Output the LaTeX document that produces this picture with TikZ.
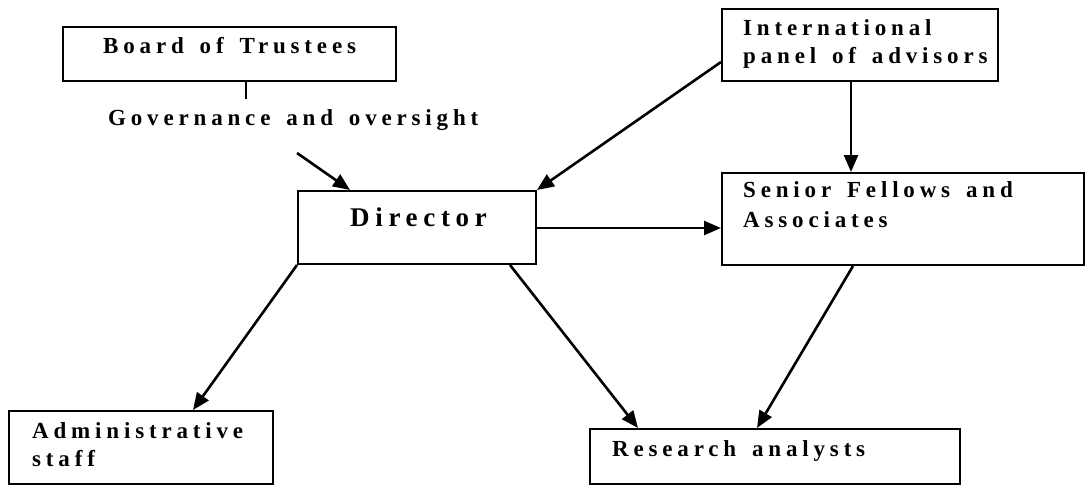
\documentclass[tikz,border=0pt]{standalone}
\usepackage{fontspec}
\setmainfont{Liberation Serif}
\newfontfamily\lbl[LetterSpace=21,WordSpace=1.5,BoldFont={Liberation Serif Bold}]{Liberation Serif}
\usetikzlibrary{arrows.meta}
\tikzset{
  box/.style={draw=black, line width=2pt, rectangle, inner sep=0pt, anchor=north west},
  lab/.style={anchor=mid west, inner sep=0pt, font=\lbl\bfseries\fontsize{23}{26}\selectfont},
  biglab/.style={anchor=mid west, inner sep=0pt, font=\lbl\bfseries\fontsize{27}{30}\selectfont},
  conn/.style={line width=2.6pt, -{Triangle[length=17pt,width=14pt]}},
  plain/.style={line width=1.6pt}
}
\begin{document}
\begin{tikzpicture}[x=1pt,y=-1pt]
\useasboundingbox (0,0) rectangle (1086,485);
% boxes
\node[box, minimum width=333pt, minimum height=54pt] (board) at (62,26) {};
\node[box, minimum width=238pt, minimum height=73pt] (dir) at (297,190) {};
\node[box, minimum width=276pt, minimum height=72pt] (intl) at (721,8) {};
\node[box, minimum width=362pt, minimum height=92pt] (sen) at (721,172) {};
\node[box, minimum width=264pt, minimum height=73pt] (adm) at (8,410) {};
\node[box, minimum width=370pt, minimum height=55pt] (res) at (589,428) {};
% texts
\node[lab] (tboard) at (103,51) {Board of Trustees};
\node[lab] (tgov) at (108,123) {Governance and oversight};
\node[biglab] (tdir) at (350,224) {Director};
\node[lab] (tintl1) at (743,33) {International};
\node[lab] (tintl2) at (743,61) {panel of advisors};
\node[lab] (tsen1) at (743,195) {Senior Fellows and};
\node[lab] (tsen2) at (743,225) {Associates};
\node[lab] (tadm1) at (32,436) {Administrative};
\node[lab] (tadm2) at (32,464) {staff};
\node[lab] (tres) at (612,454) {Research analysts};
% connectors
\coordinate (tick) at (246,99);
\draw[plain] (board.south -| tick) -- (tick);
\coordinate (govstart) at (297,153);
\draw[conn] (govstart) -- (dir.north west -| 350,0);
\draw[conn] (intl.west |- 0,62) -- (dir.north east);
\draw[conn] (intl.south -| 851,0) -- (sen.north -| 851,0);
\draw[conn] (dir.east |- 0,228) -- (sen.west |- 0,228);
\draw[conn] (dir.south west) -- (adm.north -| 193,0);
\draw[conn] (dir.south -| 510,0) -- (res.north -| 638,0);
\draw[conn] (sen.south -| 853,0) -- (res.north -| 757,0);
\end{tikzpicture}
\end{document}
